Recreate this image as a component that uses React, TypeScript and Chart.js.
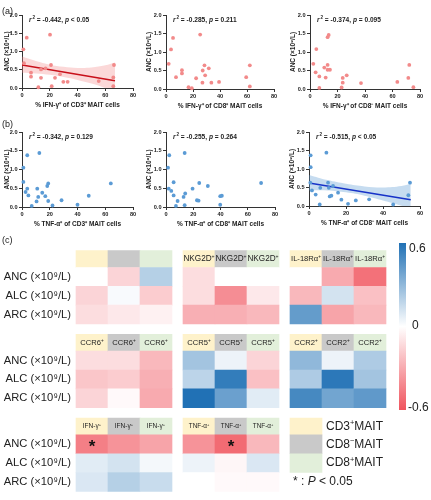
import React, { useEffect, useRef } from 'react';
import { Chart, registerables } from 'chart.js';
Chart.register(...registerables);

const FONT = '"Liberation Sans", Arial, sans-serif';
const INK = '#222';
const AXIS = '#333';

// ---------- scatter data (x = % positive cells, y = ANC ×10^9/L) ----------
const A1_X = [1.0, 3.4, 20.2, 1.4, 6.5, 6.5, 13.7, 17.0, 13.7, 20.9, 23.8, 27.4, 29.8, 32.9, 11.8, 21.4, 55.3, 66.3, 65.8, 65.8];
const A1_Y = [1.06, 1.38, 1.46, 0.68, 0.42, 0.31, 0.51, 0.54, 0.28, 0.63, 0.28, 0.38, 0.17, 0.17, 0.02, 0.05, 0.19, 0.63, 0.29, 0.05];
const A1_FIT_X = [0, 67];
const A1_FIT_Y = [0.63, 0.2];
const A1_BAND_X = [0, 10, 20, 30, 40, 50, 60, 67];
const A1_BAND_UP = [0.86, 0.74, 0.64, 0.58, 0.55, 0.56, 0.62, 0.7];
const A1_BAND_LO = [0.42, 0.4, 0.36, 0.3, 0.22, 0.12, 0.0, -0.1];

const A2_X = [2.0, 3.7, 5.2, 25.3, 7.4, 11.8, 11.8, 16.7, 19.1, 22.3, 28.5, 27.2, 29.0, 31.7, 27.0, 33.6, 39.3, 59.4, 62.1, 62.1];
const A2_Y = [0.68, 1.07, 1.38, 1.47, 0.32, 0.51, 0.42, 0.05, 0.02, 0.29, 0.64, 0.5, 0.37, 0.56, 0.17, 0.17, 0.19, 0.32, 0.64, 0.07];

const A3_X = [2.4, 4.1, 4.6, 6.8, 6.8, 10.4, 11.4, 12.8, 13.6, 12.8, 12.8, 14.5, 23.0, 23.8, 23.8, 26.7, 37.1, 63.5, 71.5, 72.2, 75.2];
const A3_Y = [0.68, 0.45, 1.08, 0.34, 0.03, 0.58, 0.31, 1.4, 1.46, 0.65, 0.52, 0.52, 0.04, 0.3, 0.17, 0.37, 0.16, 0.19, 0.3, 0.65, 0.05];

const B1_X = [1.0, 1.0, 3.8, 12.5, 2.6, 3.8, 4.6, 7.0, 10.5, 11.0, 11.7, 14.6, 16.8, 18.2, 18.9, 18.9, 22.0, 28.5, 40.0, 48.1, 64.0];
const B1_Y = [1.05, 0.67, 1.38, 1.44, 0.4, 0.49, 0.31, 0.03, 0.15, 0.49, 0.27, 0.38, 0.29, 0.56, 0.63, 0.16, 0.04, 0.18, 0.06, 0.3, 0.63];

const B2_X = [1.5, 2.4, 13.7, 2.0, 3.9, 5.6, 5.6, 8.5, 7.3, 12.9, 14.1, 13.7, 19.5, 22.7, 23.9, 24.4, 30.7, 39.8, 41.0, 39.8, 69.8];
const B2_Y = [1.05, 1.38, 1.44, 0.49, 0.43, 0.66, 0.31, 0.16, 0.03, 0.27, 0.36, 0.05, 0.49, 0.18, 0.17, 0.64, 0.56, 0.29, 0.3, 0.06, 0.64];

const B3_X = [0.9, 0.9, 0.7, 1.6, 3.6, 5.8, 9.4, 10.3, 6.1, 10.7, 11.2, 12.1, 13.0, 15.7, 17.5, 21.1, 25.3, 32.5, 45.5, 53.7, 54.6];
const B3_Y = [1.37, 1.05, 0.63, 0.42, 0.31, 0.04, 1.44, 0.63, 0.49, 0.49, 0.26, 0.28, 0.54, 0.36, 0.17, 0.06, 0.15, 0.18, 0.04, 0.29, 0.63];
const B3_FIT_X = [0, 55];
const B3_FIT_Y = [0.62, 0.17];
const B3_BAND_X = [0, 10, 20, 30, 40, 50, 55];
const B3_BAND_UP = [0.84, 0.7, 0.6, 0.53, 0.5, 0.54, 0.6];
const B3_BAND_LO = [0.42, 0.42, 0.37, 0.28, 0.15, 0.01, -0.07];

const Y_TITLE = 'ANC (×10⁹/L)';
const Y_TICKS = [0, 0.5, 1.0, 1.5, 2.0];

// ---------- heatmap data (correlation r) ----------
const GROUPS = ['CD3⁺MAIT', 'CD8⁻MAIT', 'CD8⁺MAIT'];
const ROW_LABELS = ['ANC (×10⁹/L)', 'ALC (×10⁹/L)', 'ARC (×10⁹/L)'];
const MARKERS = ['', 'NKG2D⁺', 'IL-18Rα⁺', 'CCR6⁺', 'CCR5⁺', 'CCR2⁺', 'IFN-γ⁺', 'TNF-α⁺'];
const MARKER_FONT = [8, 8.2, 7.6, 7.6, 7.6, 7.6, 6.6, 6.4];
// rows: ANC, ALC, ARC ; cols: CD3+, CD8-, CD8+
const R_BLANK = [[0.0, -0.15, 0.2], [-0.15, 0.02, -0.18], [-0.12, -0.08, -0.05]];
const R_NKG2D = [[-0.12, 0.0, 0.0], [-0.12, -0.4, -0.08], [-0.28, -0.28, -0.25]];
const R_IL18RA = [[0.0, -0.3, -0.5], [-0.25, 0.12, -0.22], [0.42, -0.32, -0.25]];
const R_CCR6 = [[-0.12, -0.12, -0.25], [-0.2, -0.18, -0.28], [-0.15, -0.02, -0.3]];
const R_CCR5 = [[0.25, 0.05, -0.15], [0.18, 0.55, -0.22], [0.6, 0.4, 0.08]];
const R_CCR2 = [[0.3, 0.05, 0.22], [0.22, 0.57, 0.25], [0.5, 0.38, 0.43]];
const R_IFNG = [[-0.45, -0.38, -0.32], [0.08, 0.12, 0.03], [0.1, 0.2, 0.15]];
const R_TNFA = [[-0.38, -0.52, -0.25], [0.05, -0.03, 0.1], [0.0, -0.02, -0.02]];
const R_VALUES = [R_BLANK, R_NKG2D, R_IL18RA, R_CCR6, R_CCR5, R_CCR2, R_IFNG, R_TNFA];
// significant cells: [marker index, row, col]
const SIG = [[6, 0, 0], [7, 0, 1]];
const SCALE_TICKS = ['0.6', '0', '-0.6'];

// ---------- styles ----------
const GROUP_COLORS = ['#FEF2CB', '#C9C9C9', '#E2EFDA'];
const BLUE_END = [33, 113, 181];
const RED_END = [240, 84, 94];
const PINK = '#F28A8A';
const BLUE = '#5B9BD5';

function heatColor(v: number) {
  const t = Math.min(1, Math.abs(v) / 0.6);
  const end = v >= 0 ? BLUE_END : RED_END;
  const c = end.map((e) => Math.round(255 + (e - 255) * t));
  return `rgb(${c[0]},${c[1]},${c[2]})`;
}

function drawRich(ctx: CanvasRenderingContext2D, text: string, x: number, y: number, size: number, align: 'left' | 'center', weight = 'normal', italic = '') {
  const SUP: Record<string, string> = { '⁺': '+', '⁻': '−', '⁹': '9', '²': '2' };
  const segs: { t: string; sup: boolean; it: boolean; w: number }[] = [];
  let buf = '';
  const flush = () => { if (buf) segs.push({ t: buf, sup: false, it: false, w: 0 }); buf = ''; };
  for (const ch of text) {
    if (SUP[ch]) { flush(); segs.push({ t: SUP[ch], sup: true, it: false, w: 0 }); }
    else if (italic.includes(ch)) { flush(); segs.push({ t: ch, sup: false, it: true, w: 0 }); }
    else buf += ch;
  }
  flush();
  const fontFor = (s: { sup: boolean; it: boolean }) => `${s.it ? 'italic ' : ''}${weight} ${s.sup ? size * 0.62 : size}px ${FONT}`;
  let total = 0;
  segs.forEach((s) => { ctx.font = fontFor(s); s.w = ctx.measureText(s.t).width; total += s.w; });
  let cx = align === 'center' ? x - total / 2 : x;
  ctx.textAlign = 'left';
  ctx.textBaseline = 'middle';
  segs.forEach((s) => { ctx.font = fontFor(s); ctx.fillText(s.t, cx, s.sup ? y - size * 0.3 : y); cx += s.w; });
}

// ---------- scatter panels ----------
type Fit = { x: number[]; y: number[]; bx: number[]; up: number[]; lo: number[]; line: string; band: string };
type PanelCfg = {
  left: number; top: number; right: number; bottom: number;
  xs: number[]; ys: number[]; xMax: number; xTitle: string;
  r: string; pOp: string; p: string; color: string; fit?: Fit; yTitlePad: number;
};

const Y_AXIS_W = 22;
const PAD_T = 8;
const PAD_R = 10;
const X_AXIS_H = 24;

const PANELS: PanelCfg[] = [
  { left: 22, top: 15, right: 133, bottom: 88, xs: A1_X, ys: A1_Y, xMax: 80, xTitle: '% IFN-γ⁺ of CD3⁺ MAIT cells', r: '-0.442', pOp: '<', p: '0.05', color: PINK, yTitlePad: 3.5,
    fit: { x: A1_FIT_X, y: A1_FIT_Y, bx: A1_BAND_X, up: A1_BAND_UP, lo: A1_BAND_LO, line: '#C8101A', band: 'rgba(242,138,138,0.33)' } },
  { left: 166, top: 15, right: 274, bottom: 89, xs: A2_X, ys: A2_Y, xMax: 80, xTitle: '% IFN-γ⁺ of CD8⁺ MAIT cells', r: '-0.285', pOp: '=', p: '0.211', color: PINK, yTitlePad: 1 },
  { left: 310, top: 15, right: 420, bottom: 89, xs: A3_X, ys: A3_Y, xMax: 80, xTitle: '% IFN-γ⁺ of CD8⁻ MAIT cells', r: '-0.374', pOp: '=', p: '0.095', color: PINK, yTitlePad: 1 },
  { left: 22, top: 132, right: 133, bottom: 207, xs: B1_X, ys: B1_Y, xMax: 80, xTitle: '% TNF-α⁺ of CD3⁺ MAIT cells', r: '-0.342', pOp: '=', p: '0.129', color: BLUE, yTitlePad: 3.5 },
  { left: 166, top: 132, right: 275, bottom: 207, xs: B2_X, ys: B2_Y, xMax: 80, xTitle: '% TNF-α⁺ of CD8⁺ MAIT cells', r: '-0.255', pOp: '=', p: '0.264', color: BLUE, yTitlePad: 1 },
  { left: 309, top: 132, right: 420, bottom: 206, xs: B3_X, ys: B3_Y, xMax: 60, xTitle: '% TNF-α⁺ of CD8⁻ MAIT cells', r: '-0.515', pOp: '<', p: '0.05', color: BLUE, yTitlePad: 1,
    fit: { x: B3_FIT_X, y: B3_FIT_Y, bx: B3_BAND_X, up: B3_BAND_UP, lo: B3_BAND_LO, line: '#1632C8', band: 'rgba(91,155,213,0.35)' } },
];

function Scatter({ cfg }: { cfg: PanelCfg }) {
  const ref = useRef<HTMLCanvasElement>(null);
  const W = cfg.right - cfg.left + Y_AXIS_W + PAD_R;
  const H = cfg.bottom - cfg.top + PAD_T + X_AXIS_H;
  useEffect(() => {
    const datasets: any[] = [
      { type: 'scatter', data: cfg.xs.map((x, i) => ({ x, y: cfg.ys[i] })), backgroundColor: cfg.color, borderWidth: 0, pointRadius: 1.9, pointBorderWidth: 0, clip: false },
    ];
    if (cfg.fit) {
      const f = cfg.fit;
      datasets.push({ type: 'line', data: f.x.map((x, i) => ({ x, y: f.y[i] })), borderColor: f.line, borderWidth: 1.6, pointRadius: 0, fill: false });
      datasets.push({ type: 'line', data: f.bx.map((x, i) => ({ x, y: f.up[i] })), borderColor: 'rgba(0,0,0,0)', borderWidth: 0, pointRadius: 0, fill: false, tension: 0.4 });
      datasets.push({ type: 'line', data: f.bx.map((x, i) => ({ x, y: f.lo[i] })), borderColor: 'rgba(0,0,0,0)', borderWidth: 0, pointRadius: 0, fill: '-1', backgroundColor: f.band, tension: 0.4 });
    }
    const annot = {
      id: 'annot',
      afterDraw(chart: any) {
        const ctx = chart.ctx as CanvasRenderingContext2D;
        const a = chart.chartArea;
        let x = a.left + 7;
        const y = a.top + 5;
        ctx.save();
        ctx.fillStyle = INK;
        ctx.textBaseline = 'middle';
        ctx.textAlign = 'left';
        const parts = [
          { t: 'r', f: 'italic bold 6.6px', dy: 0 },
          { t: ' ', f: 'bold 3.5px', dy: 0 },
          { t: '2', f: 'bold 4.5px', dy: -2.2 },
          { t: ' = ' + cfg.r + ', ', f: 'bold 6.6px', dy: 0 },
          { t: 'p', f: 'italic bold 6.6px', dy: 0 },
          { t: ' ' + cfg.pOp + ' ' + cfg.p, f: 'bold 6.6px', dy: 0 },
        ];
        for (const p of parts) {
          ctx.font = p.f + ' ' + FONT;
          ctx.fillText(p.t, x, y + p.dy);
          x += ctx.measureText(p.t).width;
        }
        ctx.restore();
      },
    };
    const tickFont = { family: FONT, size: 5.6, weight: 'bold' as const };
    const titleFont = { family: FONT, size: 6.5, weight: 'bold' as const };
    const chart = new Chart(ref.current!, {
      type: 'scatter',
      data: { datasets },
      options: {
        animation: false,
        responsive: false,
        maintainAspectRatio: false,
        layout: { padding: { left: 0, top: PAD_T, right: PAD_R, bottom: 0 } },
        plugins: { legend: { display: false }, tooltip: { enabled: false } },
        scales: {
          x: {
            type: 'linear', min: 0, max: cfg.xMax,
            afterFit: (s: any) => { s.height = X_AXIS_H; },
            ticks: { stepSize: 20, font: tickFont, color: INK, padding: 1.5, maxRotation: 0 },
            grid: { drawOnChartArea: false, drawTicks: true, tickLength: 3, color: AXIS },
            border: { display: true, color: AXIS, width: 1 },
            title: { display: true, text: cfg.xTitle, font: titleFont, color: INK, padding: { top: 0, bottom: 3 } },
          },
          y: {
            type: 'linear', min: 0, max: 2,
            afterFit: (s: any) => { s.width = Y_AXIS_W; },
            afterBuildTicks: (s: any) => { s.ticks = Y_TICKS.map((v) => ({ value: v })); },
            ticks: { font: tickFont, color: INK, padding: 1.5, callback: (v: any) => Number(v).toFixed(1) },
            grid: { drawOnChartArea: false, drawTicks: true, tickLength: 3, color: AXIS },
            border: { display: true, color: AXIS, width: 1 },
            title: { display: true, text: Y_TITLE, font: titleFont, color: INK, padding: { top: cfg.yTitlePad, bottom: 0 } },
          },
        },
      },
      plugins: [annot],
    } as any);
    return () => chart.destroy();
  }, []);
  return <canvas ref={ref} width={W} height={H} style={{ position: 'absolute', left: cfg.left - Y_AXIS_W, top: cfg.top - PAD_T, width: W, height: H }} />;
}

// ---------- heatmap ----------
const HEAT_TOP = 240;
const HEAT_W = 400;
const HEAT_H = 260;
const LABEL_W = 72;
const CELL_PX = 32;
const BLOCK_PITCH_X = 107 / CELL_PX; // in cell units
const X_MIN = -4 / CELL_PX;
const GRID_TOP = 3;
const HEADER_H = 18;
const ROW_H = 20;
const BLOCK_PITCH_Y = 89;

const colCenter = (bc: number, c: number) => bc * BLOCK_PITCH_X + c + 0.5;
const blockTop = (br: number) => GRID_TOP + br * BLOCK_PITCH_Y;
const headerSpan = (br: number): [number, number] => [blockTop(br), blockTop(br) + HEADER_H];
const rowSpan = (br: number, r: number): [number, number] => [blockTop(br) + HEADER_H + r * ROW_H, blockTop(br) + HEADER_H + (r + 1) * ROW_H];

function Heatmap() {
  const ref = useRef<HTMLCanvasElement>(null);
  useEffect(() => {
    const cells: any[] = [];
    const colors: string[] = [];
    R_VALUES.forEach((vals, k) => {
      const br = Math.floor(k / 3), bc = k % 3;
      for (let c = 0; c < 3; c++) {
        cells.push({ x: colCenter(bc, c), y: headerSpan(br) });
        colors.push(GROUP_COLORS[c]);
        for (let r = 0; r < 3; r++) {
          cells.push({ x: colCenter(bc, c), y: rowSpan(br, r) });
          colors.push(heatColor(vals[r][c]));
        }
      }
    });
    // legend swatches (last block, first column)
    GROUPS.forEach((_, i) => {
      cells.push({ x: colCenter(2, 0), y: i === 0 ? headerSpan(2) : rowSpan(2, i - 1) });
      colors.push(GROUP_COLORS[i]);
    });
    const tickVals: number[] = [];
    const tickLab = new Map<number, string>();
    for (let br = 0; br < 3; br++) for (let r = 0; r < 3; r++) {
      const [a, b] = rowSpan(br, r);
      const v = (a + b) / 2;
      tickVals.push(v);
      tickLab.set(v, ROW_LABELS[r]);
    }
    const textPlugin = {
      id: 'heatText',
      afterDatasetsDraw(chart: any) {
        const ctx = chart.ctx as CanvasRenderingContext2D;
        const xs = chart.scales.x, ys = chart.scales.y;
        ctx.save();
        ctx.fillStyle = INK;
        MARKERS.forEach((m, k) => {
          if (!m) return;
          const br = Math.floor(k / 3), bc = k % 3;
          const [a, b] = headerSpan(br);
          for (let c = 0; c < 3; c++) {
            drawRich(ctx, m, xs.getPixelForValue(colCenter(bc, c)), ys.getPixelForValue((a + b) / 2), MARKER_FONT[k], 'center');
          }
        });
        SIG.forEach(([k, r, c]) => {
          const br = Math.floor(k / 3), bc = k % 3;
          const [a, b] = rowSpan(br, r);
          ctx.font = `bold 17px ${FONT}`;
          ctx.textAlign = 'center';
          ctx.textBaseline = 'middle';
          ctx.fillStyle = '#111';
          ctx.fillText('*', xs.getPixelForValue(colCenter(bc, c)), ys.getPixelForValue((a + b) / 2) + 3.5);
        });
        ctx.fillStyle = INK;
        const lx = xs.getPixelForValue(colCenter(2, 0) + 0.5) + 4;
        GROUPS.forEach((g, i) => {
          const [a, b] = i === 0 ? headerSpan(2) : rowSpan(2, i - 1);
          drawRich(ctx, g, lx, ys.getPixelForValue((a + b) / 2), 12, 'left');
        });
        const [a3, b3] = rowSpan(2, 2);
        drawRich(ctx, '* : P < 0.05', xs.getPixelForValue(colCenter(2, 0) - 0.5) + 3, ys.getPixelForValue((a3 + b3) / 2), 12, 'left', 'normal', 'P');
        ctx.restore();
      },
    };
    const chart = new Chart(ref.current!, {
      type: 'bar',
      data: { datasets: [{ data: cells, backgroundColor: colors, borderWidth: 0, barThickness: CELL_PX, borderSkipped: false }] },
      options: {
        animation: false,
        responsive: false,
        maintainAspectRatio: false,
        layout: { padding: 0 },
        plugins: { legend: { display: false }, tooltip: { enabled: false } },
        scales: {
          x: { type: 'linear', min: X_MIN, max: X_MIN + (HEAT_W - LABEL_W) / CELL_PX, display: false, offset: false },
          y: {
            type: 'linear', min: 0, max: HEAT_H, reverse: true,
            afterFit: (s: any) => { s.width = LABEL_W; },
            afterBuildTicks: (s: any) => { s.ticks = tickVals.map((v) => ({ value: v })); },
            ticks: { autoSkip: false, padding: 1, color: INK, font: { family: FONT, size: 11.2 }, callback: (v: any) => tickLab.get(Number(v)) ?? '' },
            grid: { display: false, drawTicks: false },
            border: { display: false },
          },
        },
      },
      plugins: [textPlugin],
    } as any);
    return () => chart.destroy();
  }, []);
  return <canvas ref={ref} width={HEAT_W} height={HEAT_H} style={{ position: 'absolute', left: 0, top: HEAT_TOP, width: HEAT_W, height: HEAT_H }} />;
}

const lbl = (left: number, cy: number, size: number): React.CSSProperties => ({
  position: 'absolute', left, top: cy, transform: 'translateY(-50%)', fontSize: size, lineHeight: 1, color: INK, fontFamily: FONT, whiteSpace: 'nowrap',
});

export default function App() {
  return (
    <div style={{ position: 'absolute', left: 0, top: 0, width: 431, height: 500, background: '#fff', overflow: 'hidden', fontFamily: FONT }}>
      {PANELS.map((p, i) => <Scatter key={i} cfg={p} />)}
      <Heatmap />
      <div style={lbl(2, 11, 9)}>(a)</div>
      <div style={lbl(2, 124, 9)}>(b)</div>
      <div style={lbl(2, 240, 9)}>(c)</div>
      <div style={{ position: 'absolute', left: 399, top: 243, width: 7, height: 167, background: `linear-gradient(to bottom, rgb(${BLUE_END.join(',')}), #ffffff 50%, rgb(${RED_END.join(',')}))` }} />
      <div style={lbl(409, 248, 12)}>{SCALE_TICKS[0]}</div>
      <div style={lbl(412, 325, 12)}>{SCALE_TICKS[1]}</div>
      <div style={lbl(408, 407, 12)}>{SCALE_TICKS[2]}</div>
    </div>
  );
}
